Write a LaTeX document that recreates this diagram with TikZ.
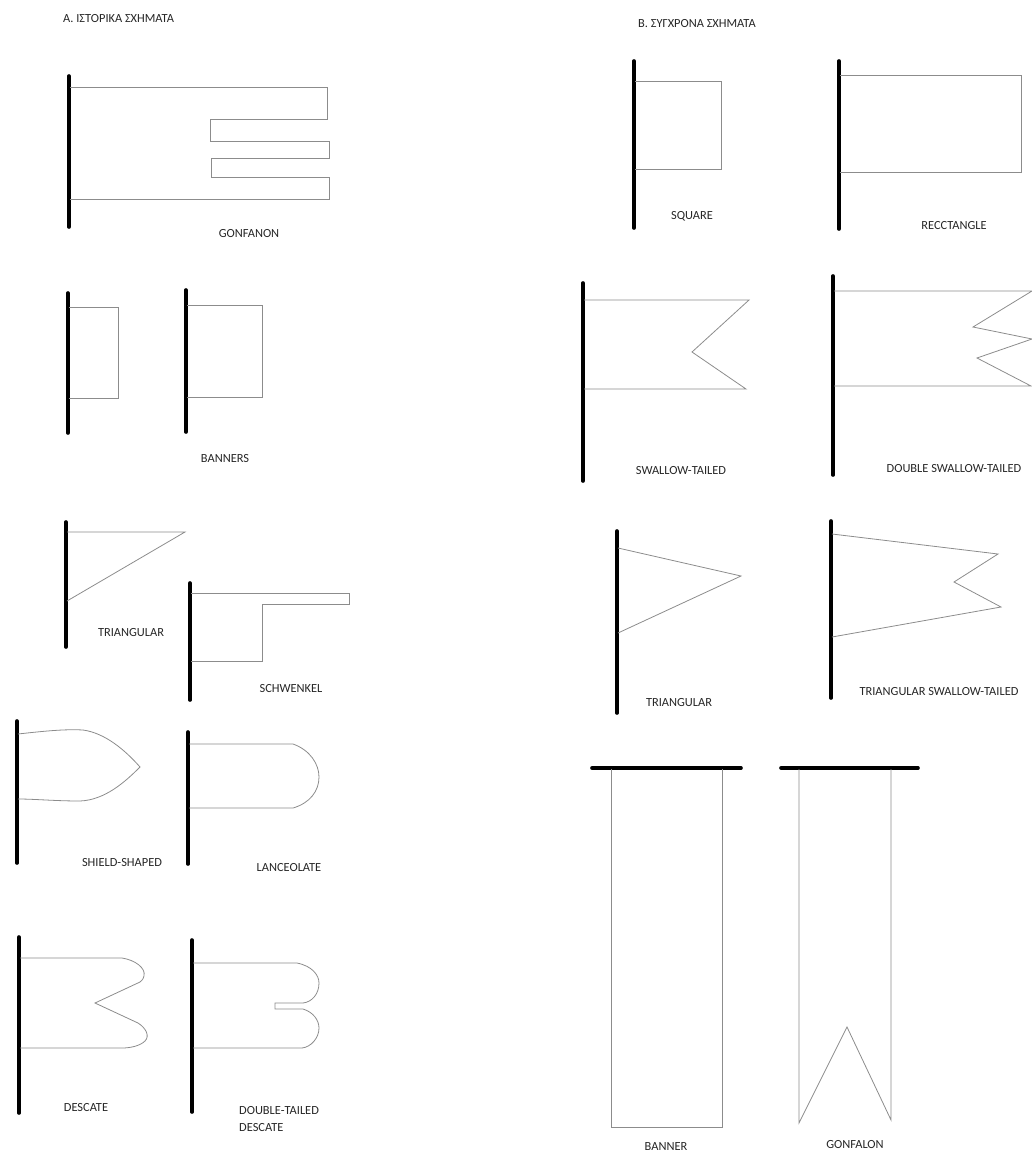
\documentclass[tikz,border=0pt]{standalone}
\usepackage{fontspec}
\setmainfont{Carlito}
\usepackage{xcolor}
\usepackage{tikz}
\usetikzlibrary{positioning}
\definecolor{cPole}{HTML}{000000}
\definecolor{cFlag}{HTML}{8C8C8C}
\definecolor{cText}{HTML}{262626}
\tikzset{
  pole/.style  = {draw=cPole, line width=3.6pt, line cap=round},
  flg/.style   = {draw=cFlag, line width=0.8pt, line join=miter},
  lab/.style   = {font=\fontsize{12.4}{17}\selectfont, text=cText, inner sep=0pt, anchor=base},
  ttl/.style   = {lab, anchor=base west},
}

\begin{document}
\begin{tikzpicture}[x=1pt, y=-1pt]
  \useasboundingbox (0,0) rectangle (1032,1162);

  % A. historical shapes
  \node[ttl] (tA) at (63,22) {Α. ΙΣΤΟΡΙΚΑ ΣΧΗΜΑΤΑ};

  \draw[pole] (69,76) -- (69,227);
  \draw[flg] (70,87) -- (327,87) -- (327,119) -- (210,119) -- (210,141) -- (329,141)
    -- (329,158) -- (211,158) -- (211,177) -- (329,177) -- (329,199) -- (70,199);
  \node[lab] (lGonfanon) at (249,237) {GONFANON};

  \draw[pole] (68,293) -- (68,433);
  \draw[flg] (69,307) -- (118,307) -- (118,398) -- (69,398);
  \draw[pole] (186,290) -- (186,432);
  \draw[flg] (187,305) -- (262,305) -- (262,397) -- (187,397);
  \node[lab] (lBanners) at (225,462) {BANNERS};

  \draw[pole] (66,522) -- (66,647);
  \draw[flg] (67,532) -- (185,532) -- (67,601);
  \node[lab] (lTriA) at (131,636) {TRIANGULAR};

  \draw[pole] (190,583) -- (190,700);
  \draw[flg] (191,593) -- (349,593) -- (349,604) -- (262,604) -- (262,661) -- (191,661);
  \node[lab] (lSchwenkel) at (291,692) {SCHWENKEL};

  \draw[pole] (17,721) -- (17,863);
  \draw[flg] (18,734) .. controls (45,731) and (65,729) .. (83,730)
    .. controls (105,733) and (125,750) .. (140,767)
    .. controls (125,782) and (105,800) .. (80,801)
    .. controls (55,801) and (35,799) .. (18,799);
  \node[lab] (lShield) at (122,866) {SHIELD-SHAPED};

  \draw[pole] (188,732) -- (188,864);
  \draw[flg] (189,744) -- (293,744) .. controls (310,750) and (319,764) .. (319,777)
    .. controls (319,791) and (310,803) .. (293,808) -- (189,808);
  \node[lab] (lLance) at (289,871) {LANCEOLATE};

  \draw[pole] (19,937) -- (19,1113);
  \draw[flg] (20,958) -- (122,958) .. controls (135,960) and (146,968) .. (144,976)
    .. controls (143,980) and (141,981) .. (140,982) -- (95,1003) -- (138,1023)
    .. controls (146,1028) and (150,1036) .. (145,1041)
    .. controls (140,1046) and (130,1048) .. (122,1048) -- (20,1048);
  \node[lab] (lDescate) at (86,1111) {DESCATE};

  \draw[pole] (192,940) -- (192,1112);
  \draw[flg] (193,963) -- (297,963) .. controls (312,966) and (319,975) .. (319,983)
    .. controls (319,994) and (312,1002) .. (303,1003) -- (275,1003) -- (275,1009)
    -- (303,1009) .. controls (313,1012) and (319,1020) .. (319,1028)
    .. controls (319,1038) and (311,1047) .. (302,1048) -- (193,1048);
  \node[lab, anchor=north west, align=left] (lDouble) at (239,1106) {DOUBLE-TAILED\\DESCATE};

  % B. modern shapes
  \node[ttl] (tB) at (638,27) {Β. ΣΥΓΧΡΟΝΑ ΣΧΗΜΑΤΑ};

  \draw[pole] (634,61) -- (634,228);
  \draw[flg] (635,81) -- (721,81) -- (721,169) -- (635,169);
  \node[lab] (lSquare) at (692,219) {SQUARE};

  \draw[pole] (839,61) -- (839,229);
  \draw[flg] (840,75) -- (1021,75) -- (1021,172) -- (840,172);
  \node[lab] (lRect) at (954,229) {RECCTANGLE};

  \draw[pole] (583,283) -- (583,481);
  \draw[flg] (584,300) -- (749,300) -- (692,352) -- (746,389) -- (584,389);
  \node[lab] (lSwallow) at (681,474) {SWALLOW-TAILED};

  \draw[pole] (833,276) -- (833,475);
  \draw[flg] (834,291) -- (1032,291) -- (973,327) -- (1032,339) -- (977,358)
    -- (1031,386) -- (834,386);
  \node[lab] (lDSwallow) at (954,472) {DOUBLE SWALLOW-TAILED};

  \draw[pole] (617,531) -- (617,713);
  \draw[flg] (618,548) -- (741,576) -- (618,633);
  \node[lab] (lTriB) at (679,706) {TRIANGULAR};

  \draw[pole] (831,521) -- (831,698);
  \draw[flg] (832,534) -- (998,554) -- (954,582) -- (1001,607) -- (832,637);
  \node[lab] (lTriSwallow) at (939,695) {TRIANGULAR SWALLOW-TAILED};

  \draw[pole] (592,768) -- (741,768);
  \draw[flg] (611,769) -- (611,1127) -- (722,1127) -- (722,769);
  \node[lab] (lBanner) at (666,1150) {BANNER};

  \draw[pole] (781,768) -- (918,768);
  \draw[flg] (799,769) -- (799,1123) -- (847,1027) -- (891,1120) -- (891,769);
  \node[lab] (lGonfalon) at (855,1148) {GONFALON};
\end{tikzpicture}
\end{document}
